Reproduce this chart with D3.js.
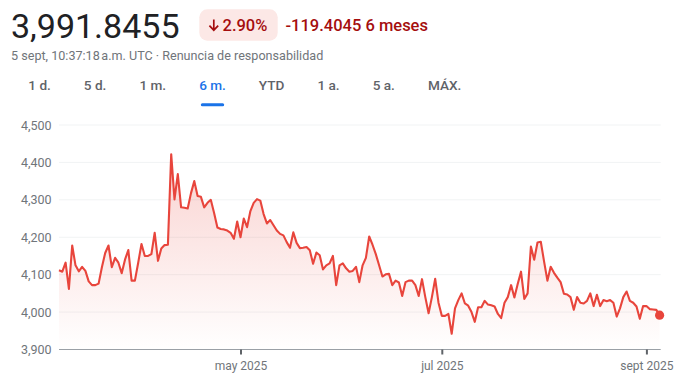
<!DOCTYPE html>
<html>
<head>
<meta charset="utf-8">
<script src="https://cdn.jsdelivr.net/npm/d3@7"></script>
<style>
  html, body { margin: 0; padding: 0; background: #fff; }
  svg { display: block; font-family: Roboto, "Noto Sans", sans-serif; }
</style>
</head>
<body>
<div id="chart"></div>
<script>
// header texts
const price = "3,991.8455"
const changePct = "2.90%"
const changeAbs = "-119.4045"
const periodLabel = "6 meses"
const stamp = "5 sept, 10:37:18\u202Fa.m. UTC · Renuncia de responsabilidad"
const tabs = ["1 d.", "5 d.", "1 m.", "6 m.", "YTD", "1 a.", "5 a.", "MÁX."]
const activeTab = "6 m."

// series: one value per day, starting 7 mar 2025
const startDay = "2025-03-07"
const values = [
    4112, 4108, 4132, 4062, 4178, 4125, 4109, 4121, 4110, 4082,
    4072, 4072, 4076, 4120, 4158, 4178, 4120, 4145, 4132, 4104,
    4140, 4166, 4084, 4084, 4132, 4182, 4150, 4150, 4155, 4212,
    4137, 4170, 4179, 4180, 4422, 4301, 4369, 4280, 4279, 4277,
    4318, 4350, 4310, 4308, 4280, 4292, 4300, 4265, 4226, 4222,
    4221, 4218, 4212, 4196, 4242, 4200, 4250, 4227, 4270, 4292,
    4302, 4298, 4262, 4237, 4246, 4232, 4218, 4209, 4205, 4187,
    4172, 4213, 4185, 4171, 4172, 4174, 4165, 4129, 4159, 4152,
    4114, 4125, 4130, 4150, 4072, 4125, 4130, 4117, 4108, 4110,
    4121, 4080, 4125, 4145, 4202, 4180, 4155, 4125, 4095, 4101,
    4102, 4072, 4084, 4079, 4043, 4080, 4084, 4084, 4072, 4043,
    4088, 4040, 3997, 4040, 4089, 4025, 3990, 3990, 3995, 3942,
    4010, 4032, 4050, 4023, 4017, 4000, 3974, 4013, 4013, 4030,
    4020, 4018, 4015, 3995, 3984, 4025, 4040, 4072, 4039, 4075,
    4108, 4035, 4050, 4175, 4140, 4186, 4188, 4135, 4084, 4121,
    4105, 4092, 4080, 4049, 4047, 4040, 4006, 4040, 4025, 4023,
    4030, 4050, 4016, 4046, 4016, 4032, 4029, 4032, 4025, 3988,
    4010, 4040, 4055, 4030, 4025, 4015, 3982, 4016, 4016, 4008,
    4007, 4006, 3992
]
const lastValue = 3991.8455

const yTicks = [3900, 4000, 4100, 4200, 4300, 4400, 4500]
const xTickDates = ["2025-05-01", "2025-07-01", "2025-09-01"]
const xTickLabels = ["may 2025", "jul 2025", "sept 2025"]

const red = "#e8453c"
const W = 685, H = 388

const parseDay = d3.timeParse("%Y-%m-%d")
const day0 = parseDay(startDay)
const data = values.map((v, i) => ({ date: d3.timeDay.offset(day0, i), value: v }))
data[data.length - 1].value = lastValue

const svg = d3.select("#chart").append("svg")
    .attr("width", W)
    .attr("height", H)

// ---- header
svg.append("text")
    .attr("x", 11).attr("y", 38.3)
    .attr("font-size", 34)
    .attr("fill", "#202124")
    .text(price)

svg.append("rect")
    .attr("x", 199.3).attr("y", 9.3)
    .attr("width", 78.4).attr("height", 31.4)
    .attr("rx", 8)
    .attr("fill", "#fce8e6")

svg.append("path")
    .attr("d", "M213.8,19.5V30 M209.4,25.7L213.8,30.2L218.2,25.7")
    .attr("fill", "none")
    .attr("stroke", "#a50e0e")
    .attr("stroke-width", 1.7)

svg.append("text")
    .attr("x", 222.5).attr("y", 31)
    .attr("font-size", 16.5)
    .attr("font-weight", 500)
    .attr("fill", "#a50e0e")
    .text(changePct)

svg.append("text")
    .attr("x", 285.5).attr("y", 31)
    .attr("font-size", 16.5)
    .attr("font-weight", 500)
    .attr("fill", "#a50e0e")
    .text(changeAbs + " " + periodLabel)

svg.append("text")
    .attr("x", 11).attr("y", 59.5)
    .attr("font-size", 12.6)
    .attr("fill", "#70757a")
    .text(stamp)

// ---- tabs, laid out by their text width with a fixed gap
let tabX = 28.3
tabs.forEach((t) => {
    const isActive = t === activeTab
    const node = svg.append("text")
        .attr("x", tabX).attr("y", 90)
        .attr("font-size", 13.6)
        .attr("font-weight", 500)
        .attr("fill", isActive ? "#1a73e8" : "#5f6368")
        .text(t)
    const w = node.node().getComputedTextLength()
    if (isActive) {
        svg.append("rect")
            .attr("x", tabX + 1.7).attr("y", 103.2)
            .attr("width", w - 3.4).attr("height", 3)
            .attr("rx", 1.5)
            .attr("fill", "#1a73e8")
    }
    tabX += w + 33
})

// ---- chart
const x = d3.scaleTime()
    .domain(d3.extent(data, (d) => d.date))
    .range([59, 659.6])

const y = d3.scaleLinear()
    .domain([3900, 4500])
    .range([349.5, 125])

// gridlines
svg.append("g")
    .selectAll("line")
    .data(yTicks.filter((t) => t !== 3900))
    .enter()
    .append("line")
        .attr("x1", 59).attr("x2", 660.7)
        .attr("y1", (d) => y(d)).attr("y2", (d) => y(d))
        .attr("stroke", "#f1f3f4")
        .attr("stroke-width", 1)

// y labels
const yAxis = svg.append("g")
    .attr("transform", "translate(51.5,0)")
    .call(d3.axisLeft(y).tickValues(yTicks).tickSize(0).tickPadding(0).tickFormat(d3.format(",")))
yAxis.select(".domain").remove()
yAxis.selectAll("text")
    .attr("font-size", 12.5)
    .attr("font-family", "Roboto, sans-serif")
    .attr("fill", "#70757a")

// area + line
const grad = svg.append("defs").append("linearGradient")
    .attr("id", "fade")
    .attr("gradientUnits", "userSpaceOnUse")
    .attr("x1", 0).attr("x2", 0)
    .attr("y1", y(d3.max(values))).attr("y2", y(3900))
grad.append("stop").attr("offset", 0).attr("stop-color", red).attr("stop-opacity", 0.24)
grad.append("stop").attr("offset", 1).attr("stop-color", red).attr("stop-opacity", 0)

const area = d3.area()
    .x((d) => x(d.date))
    .y0(y(3900))
    .y1((d) => y(d.value))

svg.append("path")
    .datum(data)
    .attr("d", area)
    .attr("fill", "url(#fade)")

const line = d3.line()
    .x((d) => x(d.date))
    .y((d) => y(d.value))

svg.append("path")
    .datum(data)
    .attr("d", line)
    .attr("fill", "none")
    .attr("stroke", red)
    .attr("stroke-width", 2.1)
    .attr("stroke-linejoin", "round")

// x axis
const xAxis = svg.append("g")
    .attr("transform", "translate(0,349.5)")
    .call(d3.axisBottom(x)
        .tickValues(xTickDates.map(parseDay))
        .tickFormat((d, i) => xTickLabels[i])
        .tickSize(5)
        .tickSizeOuter(0)
        .tickPadding(7))
xAxis.select(".domain")
    .attr("stroke", "#9aa0a6")
    .attr("d", "M59,0H660.7")
xAxis.selectAll(".tick line")
    .attr("stroke", "#5f6368")
    .attr("stroke-width", 2)
xAxis.selectAll("text")
    .attr("font-size", 12)
    .attr("font-family", "Roboto, sans-serif")
    .attr("fill", "#70757a")

// last point
const last = data[data.length - 1]
svg.append("circle")
    .attr("cx", x(last.date))
    .attr("cy", y(last.value))
    .attr("r", 4.6)
    .attr("fill", red)
</script>
</body>
</html>
